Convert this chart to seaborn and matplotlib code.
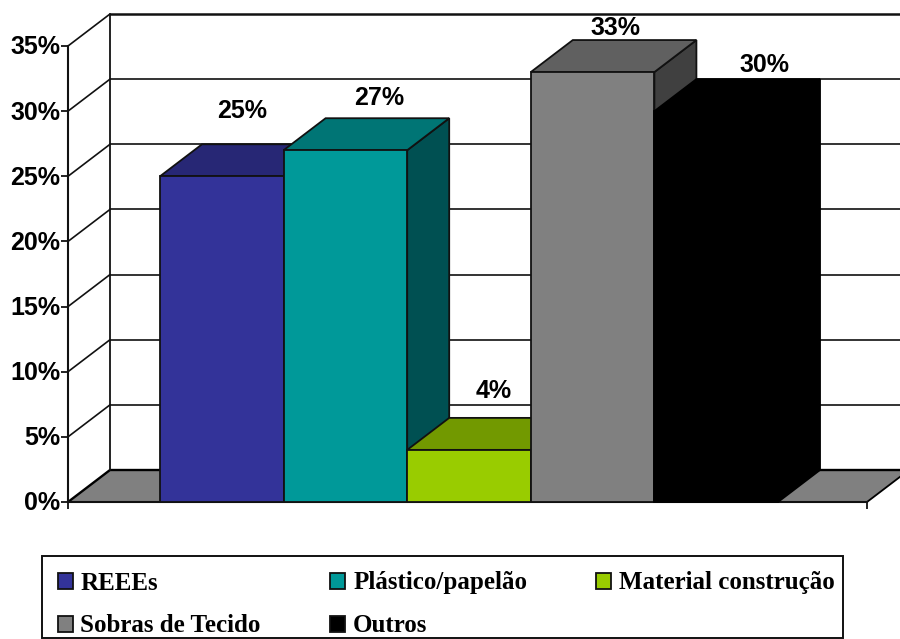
import matplotlib
matplotlib.use("Agg")
import matplotlib.pyplot as plt
from matplotlib.patches import Polygon, Rectangle
from matplotlib.transforms import ScaledTranslation
import pandas as pd
import seaborn as sns

# ---- data ----
series_names = ["REEEs", "Plástico/papelão", "Material construção", "Sobras de Tecido", "Outros"]
series_values = [25, 27, 4, 33, 30]
tick_values = [0, 5, 10, 15, 20, 25, 30, 35]
tick_labels = ["0%", "5%", "10%", "15%", "20%", "25%", "30%", "35%"]
value_labels = ["25%", "27%", "4%", "33%", "30%"]

# ---- style ----
front_colors = ["#333399", "#009999", "#99CC00", "#808080", "#000000"]
top_colors = ["#272775", "#007575", "#729900", "#606060", "#000000"]
side_colors = ["#1c1c55", "#005052", "#4f6a00", "#404040", "#000000"]
edge_colors = ["#111111", "#111111", "#111111", "#111111", "#000000"]
label_offsets_px = [(20, 65), (34, 52), (25, 59), (23, 44), (48, 46)]

W, H = 900, 639
L, R, Y0, Y35 = 68, 867, 502, 46
DX_PX, DY_PX = 42, 32

sns.set_theme(style="white")
plt.rcParams["font.family"] = ["Liberation Sans", "DejaVu Sans"]

fig = plt.figure(figsize=(W / 100, H / 100), dpi=100, facecolor="white")
ax = fig.add_axes([L / W, 1 - Y0 / H, (R - L) / W, (Y0 - Y35) / H])

df = pd.DataFrame({"grupo": ["Total"] * 5, "serie": series_names, "valor": series_values})
sns.barplot(data=df, x="grupo", y="valor", hue="serie", hue_order=series_names,
            palette=front_colors, width=0.7735, gap=0, dodge=True, ax=ax,
            saturation=1, errorbar=None, edgecolor="#111111", linewidth=1.3, zorder=5)

off = 1.5 / (R - L)
ax.set_xlim(-0.5 - off, 0.5 - off)
ax.set_ylim(0, 35)
dx = DX_PX / (R - L) * (ax.get_xlim()[1] - ax.get_xlim()[0])
dy = DY_PX / (Y0 - Y35) * 35

# walls, floor and gridlines
xl, xr = ax.get_xlim()
floor = Polygon([(xl, 0), (xl + dx, dy), (xr + dx, dy), (xr, 0)], closed=True,
                facecolor="#808080", edgecolor="none", clip_on=False, zorder=1)
ax.add_patch(floor)
ax.plot([xl, xl + dx, xr + dx], [0, dy, dy], color="black", lw=1.7, clip_on=False, zorder=2)
ax.plot([xr, xr + dx], [0, dy], color="black", lw=1.3, clip_on=False, zorder=2)
for v in tick_values[1:]:
    lw = 1.8 if v == tick_values[-1] else 1.2
    ax.plot([xl, xl + dx], [v, v + dy], color="#111111", lw=1.2, clip_on=False, zorder=2)
    ax.plot([xl + dx, xr + dx], [v + dy, v + dy], color="#111111", lw=lw, clip_on=False, zorder=2)
ax.plot([xl + dx, xl + dx], [dy, 35 + dy], color="#111111", lw=1.3, clip_on=False, zorder=2)

# 3-D faces built from the bars seaborn drew
bars = [c[0] for c in ax.containers]
for i, bar in enumerate(bars):
    x0, w, h = bar.get_x(), bar.get_width(), bar.get_height()
    ec = edge_colors[i]
    top = Polygon([(x0, h), (x0 + dx, h + dy), (x0 + w + dx, h + dy), (x0 + w, h)],
                  closed=True, facecolor=top_colors[i], edgecolor=ec, lw=1.3,
                  clip_on=False, zorder=5 + 2 * i)
    side = Polygon([(x0 + w, 0), (x0 + w + dx, dy), (x0 + w + dx, h + dy), (x0 + w, h)],
                   closed=True, facecolor=side_colors[i], edgecolor=ec, lw=1.3,
                   clip_on=False, zorder=5 + 2 * i)
    ax.add_patch(side)
    ax.add_patch(top)
    bar.set_edgecolor(ec)
    bar.set_zorder(6 + 2 * i)
    bar.set_clip_on(False)
    ox, oy = label_offsets_px[i]
    ax.annotate(value_labels[i], xy=(x0 + w / 2, h), xytext=(ox * 0.72, oy * 0.72),
                textcoords="offset points", ha="center", va="center",
                fontsize=18, fontweight="bold", color="black", zorder=30,
                annotation_clip=False)

# axes
for s in ["top", "right"]:
    ax.spines[s].set_visible(False)
for s in ["left", "bottom"]:
    ax.spines[s].set_visible(True)
    ax.spines[s].set_color("#111111")
    ax.spines[s].set_linewidth(1.5)
    ax.spines[s].set_zorder(4)
ax.set_xlabel("")
ax.set_ylabel("")
ax.set_yticks(tick_values, tick_labels)
ax.set_xticks([xl, xr], ["", ""])
ax.tick_params(axis="y", direction="out", length=5, width=1.3, color="#111111", pad=0.5,
               labelsize=18, left=True)
ax.tick_params(axis="x", direction="out", length=5, width=1.3, color="#111111", bottom=True)
label_shift = ScaledTranslation(0, 1 / 100, fig.dpi_scale_trans)
for t in ax.get_yticklabels():
    t.set_fontweight("bold")
    t.set_color("black")
    t.set_transform(t.get_transform() + label_shift)

# legend: frame drawn separately so the left and right paddings can differ
fig.add_artist(Rectangle((42 / W, 1 - 638 / H), 801 / W, 82 / H, transform=fig.transFigure,
                         facecolor="white", edgecolor="#111111", lw=1.4, zorder=1))
handles, labels = ax.get_legend_handles_labels()
if ax.get_legend() is not None:
    ax.get_legend().remove()
order = [0, 3, 1, 4, 2]
leg = fig.legend([handles[i] for i in order], [labels[i] for i in order], ncol=3,
                 loc="upper left", bbox_to_anchor=(49.5 / W, 1 - 645.5 / H, 793.5 / W, 82 / H),
                 mode="expand", borderaxespad=0, frameon=False,
                 prop={"family": "Liberation Serif", "weight": "bold", "size": 18},
                 handlelength=0.6, handleheight=0.6, handletextpad=0.32,
                 labelspacing=0.8, borderpad=0.32, columnspacing=2.0)
leg.set_zorder(2)
for t in leg.get_texts():
    t.set_color("black")

fig.savefig("out.png", dpi=100, facecolor="white")
